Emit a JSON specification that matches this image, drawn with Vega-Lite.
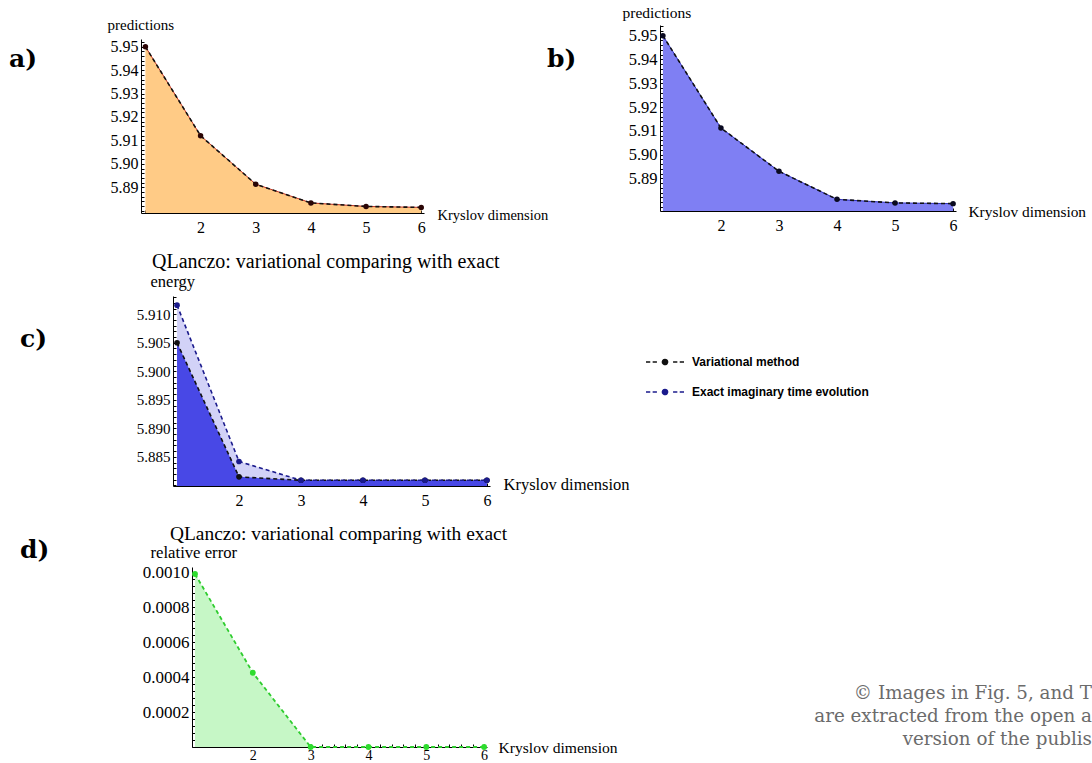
{
  "$schema": "https://vega.github.io/schema/vega-lite/v6.json",
  "background": "white",
  "padding": {"left": 9, "top": 5, "right": 0, "bottom": 0},
  "config": {
    "view": {"stroke": null},
    "font": "Liberation Serif",
    "axis": {"grid": false, "domainColor": "#000000", "domainWidth": 1, "tickColor": "#000000", "tickSize": -3, "tickWidth": 1, "labelColor": "#000000", "labelFont": "Liberation Serif", "titleFont": "Liberation Serif", "titleColor": "#000000", "titleFontWeight": "normal", "labelOverlap": false, "labelFlush": false, "labelBound": false},
    "axisX": {"labelPadding": 9},
    "axisY": {"labelPadding": 6},
    "title": {"font": "Liberation Serif", "color": "#000000"}
  },
  "datasets": {
    "predA": [{"k": 1, "v": 5.95}, {"k": 2, "v": 5.912}, {"k": 3, "v": 5.8913}, {"k": 4, "v": 5.8833}, {"k": 5, "v": 5.8818}, {"k": 6, "v": 5.8814}],
    "predB": [{"k": 1, "v": 5.95}, {"k": 2, "v": 5.9112}, {"k": 3, "v": 5.893}, {"k": 4, "v": 5.8812}, {"k": 5, "v": 5.8797}, {"k": 6, "v": 5.8794}],
    "energy": [
      {"k": 1, "v": 5.905, "method": "Variational method"},
      {"k": 2, "v": 5.8815, "method": "Variational method"},
      {"k": 3, "v": 5.8809, "method": "Variational method"},
      {"k": 4, "v": 5.8809, "method": "Variational method"},
      {"k": 5, "v": 5.8809, "method": "Variational method"},
      {"k": 6, "v": 5.8809, "method": "Variational method"},
      {"k": 1, "v": 5.9116, "method": "Exact imaginary time evolution"},
      {"k": 2, "v": 5.8842, "method": "Exact imaginary time evolution"},
      {"k": 3, "v": 5.8809, "method": "Exact imaginary time evolution"},
      {"k": 4, "v": 5.8809, "method": "Exact imaginary time evolution"},
      {"k": 5, "v": 5.8809, "method": "Exact imaginary time evolution"},
      {"k": 6, "v": 5.8809, "method": "Exact imaginary time evolution"}
    ],
    "err": [{"k": 1, "v": 0.00099}, {"k": 2, "v": 0.000425}, {"k": 3, "v": 0}, {"k": 4, "v": 0}, {"k": 5, "v": 0}, {"k": 6, "v": 0}]
  },
  "bounds": "flush",
  "spacing": 271,
  "vconcat": [
    {
      "bounds": "flush",
      "spacing": 519,
      "hconcat": [
        {
          "bounds": "flush",
          "spacing": 0,
          "vconcat": [
            {"width": 283, "height": 14, "data": {"values": []}, "mark": "point"},
            {
              "width": 283, "height": 174,
              "data": {"name": "predA"},
              "title": {"text": "a)", "orient": "top", "anchor": "start", "frame": "group", "align": "left", "baseline": "top", "offset": 0, "dx": -132, "dy": 55, "fontSize": 25, "fontWeight": "bold", "font": "DejaVu Serif", "color": "#000000"},
              "encoding": {
                "x": {"field": "k", "type": "quantitative", "scale": {"domain": [0.92, 6.05], "nice": false, "zero": false},
                  "axis": {"values": [1,1.2,1.4,1.6,1.8,2,2.2,2.4,2.6,2.8,3,3.2,3.4,3.6,3.8,4,4.2,4.4,4.6,4.8,5,5.2,5.4,5.6,5.8,6], "labelExpr": "datum.value > 1.5 && abs(datum.value - round(datum.value)) < 0.01 ? format(datum.value, 'd') : ''", "labelFontSize": 16, "title": "Kryslov dimension", "titleFontSize": 14.5, "titleAngle": 0, "titleAlign": "left", "titleBaseline": "middle", "titleX": 296, "titleY": 2}},
                "y": {"field": "v", "type": "quantitative", "scale": {"domain": [5.879, 5.9533], "nice": false, "zero": false},
                  "axis": {"values": [5.88,5.882,5.884,5.886,5.888,5.89,5.892,5.894,5.896,5.898,5.9,5.902,5.904,5.906,5.908,5.91,5.912,5.914,5.916,5.918,5.92,5.922,5.924,5.926,5.928,5.93,5.932,5.934,5.936,5.938,5.94,5.942,5.944,5.946,5.948,5.95,5.952], "labelExpr": "datum.value > 5.885 && abs(datum.value * 100 - round(datum.value * 100)) < 0.01 ? format(datum.value, '.2f') : ''", "labelFontSize": 16, "title": "predictions", "titleFontSize": 15, "titleAngle": 0, "titleAlign": "left", "titleBaseline": "middle", "titleX": -34, "titleY": -15}}
              },
              "layer": [
                {"mark": {"type": "area", "color": "#FFCB86", "opacity": 1, "clip": true}},
                {"mark": {"type": "line", "color": "#C03020", "strokeWidth": 1}},
                {"mark": {"type": "line", "color": "#111111", "strokeDash": [4, 3], "strokeWidth": 1.6}},
                {"mark": {"type": "point", "filled": true, "color": "#2a0505", "size": 30, "opacity": 1}}
              ]
            }
          ]
        },
        {
          "width": 296, "height": 186,
          "data": {"name": "predB"},
          "title": {"text": "b)", "orient": "top", "anchor": "start", "frame": "group", "align": "left", "baseline": "top", "offset": 0, "dx": -113, "dy": 67, "fontSize": 25, "fontWeight": "bold", "font": "DejaVu Serif", "color": "#000000"},
          "encoding": {
            "x": {"field": "k", "type": "quantitative", "scale": {"domain": [0.95, 6.05], "nice": false, "zero": false},
              "axis": {"values": [1,1.2,1.4,1.6,1.8,2,2.2,2.4,2.6,2.8,3,3.2,3.4,3.6,3.8,4,4.2,4.4,4.6,4.8,5,5.2,5.4,5.6,5.8,6], "labelExpr": "datum.value > 1.5 && abs(datum.value - round(datum.value)) < 0.01 ? format(datum.value, 'd') : ''", "labelFontSize": 16, "title": "Kryslov dimension", "titleFontSize": 15.4, "titleAngle": 0, "titleAlign": "left", "titleBaseline": "middle", "titleX": 308, "titleY": 0}},
            "y": {"field": "v", "type": "quantitative", "scale": {"domain": [5.8763, 5.9545], "nice": false, "zero": false},
              "axis": {"values": [5.878,5.88,5.882,5.884,5.886,5.888,5.89,5.892,5.894,5.896,5.898,5.9,5.902,5.904,5.906,5.908,5.91,5.912,5.914,5.916,5.918,5.92,5.922,5.924,5.926,5.928,5.93,5.932,5.934,5.936,5.938,5.94,5.942,5.944,5.946,5.948,5.95,5.952,5.954], "labelExpr": "datum.value > 5.885 && abs(datum.value * 100 - round(datum.value * 100)) < 0.01 ? format(datum.value, '.2f') : ''", "labelFontSize": 16.5, "title": "predictions", "titleFontSize": 15.5, "titleAngle": 0, "titleAlign": "left", "titleBaseline": "middle", "titleX": -38, "titleY": -13}}
          },
          "layer": [
            {"mark": {"type": "area", "color": "#7F7FF3", "opacity": 1, "clip": true}},
            {"mark": {"type": "line", "color": "#3030c0", "strokeWidth": 1}},
            {"mark": {"type": "line", "color": "#111111", "strokeDash": [4, 3], "strokeWidth": 1.6}},
            {"mark": {"type": "point", "filled": true, "color": "#0a0a20", "size": 30, "opacity": 1}}
          ]
        }
      ]
    },
    {
      "bounds": "flush",
      "spacing": 0,
      "hconcat": [
        {"width": 32, "height": 190, "data": {"values": []}, "mark": "point",
         "title": {"text": "c)", "orient": "top", "anchor": "start", "frame": "group", "align": "left", "baseline": "top", "offset": 0, "dx": -121, "dy": 56, "fontSize": 25, "fontWeight": "bold", "font": "DejaVu Serif", "color": "#000000"}},
        {
          "width": 317, "height": 190,
          "data": {"name": "energy"},
          "title": {"text": "QLanczo: variational comparing with exact", "orient": "top", "anchor": "start", "frame": "group", "align": "left", "baseline": "alphabetic", "offset": 0, "dx": -21, "dy": 15, "fontSize": 20, "fontWeight": "normal", "font": "Liberation Serif", "color": "#000000"},
          "encoding": {
            "x": {"field": "k", "type": "quantitative", "scale": {"domain": [0.935, 6.05], "nice": false, "zero": false},
              "axis": {"values": [1,1.2,1.4,1.6,1.8,2,2.2,2.4,2.6,2.8,3,3.2,3.4,3.6,3.8,4,4.2,4.4,4.6,4.8,5,5.2,5.4,5.6,5.8,6], "labelExpr": "datum.value > 1.5 && abs(datum.value - round(datum.value)) < 0.01 ? format(datum.value, 'd') : ''", "labelFontSize": 16, "title": "Kryslov dimension", "titleFontSize": 16.5, "titleAngle": 0, "titleAlign": "left", "titleBaseline": "middle", "titleX": 330, "titleY": -2}},
            "y": {"field": "v", "type": "quantitative", "scale": {"domain": [5.8799, 5.9132], "nice": false, "zero": false},
              "axis": {"values": [5.88,5.881,5.882,5.883,5.884,5.885,5.886,5.887,5.888,5.889,5.89,5.891,5.892,5.893,5.894,5.895,5.896,5.897,5.898,5.899,5.9,5.901,5.902,5.903,5.904,5.905,5.906,5.907,5.908,5.909,5.91,5.911,5.912,5.913], "labelExpr": "datum.value > 5.882 && abs(datum.value * 200 - round(datum.value * 200)) < 0.01 ? format(datum.value, '.3f') : ''", "labelFontSize": 15, "title": "energy", "titleFontSize": 16.5, "titleAngle": 0, "titleAlign": "left", "titleBaseline": "middle", "titleX": -23, "titleY": -15}}
          },
          "layer": [
            {"transform": [{"filter": "datum.method == 'Exact imaginary time evolution'"}], "mark": {"type": "area", "color": "#D2D2F7", "opacity": 1, "clip": true}},
            {"transform": [{"filter": "datum.method == 'Variational method'"}], "mark": {"type": "area", "color": "#4848E6", "opacity": 1, "clip": true}},
            {"mark": {"type": "line", "strokeDash": [4, 3], "strokeWidth": 1.6},
             "encoding": {"color": {"field": "method", "type": "nominal", "scale": {"domain": ["Variational method", "Exact imaginary time evolution"], "range": ["#111111", "#1a1a8c"]},
               "legend": {"orient": "none", "legendX": 513.5, "legendY": 326.5, "title": null, "padding": 0, "offset": 0, "labelFont": "Liberation Sans", "labelFontSize": 12, "labelFontWeight": "bold", "labelColor": "#000000", "labelLimit": 0, "labelOffset": 16.5, "rowPadding": 13, "symbolSize": 361, "symbolType": "M-2,0H-1.55M-1.3,0H-0.85M0.85,0H1.3M1.55,0H2M-0.28,0A0.28,0.28,0,1,1,0.28,0A0.28,0.28,0,1,1,-0.28,0Z", "symbolStrokeWidth": 1.3,
                 "encode": {"symbols": {"update": {"shape": {"value": "M-2,0H-1.55M-1.3,0H-0.85M0.85,0H1.3M1.55,0H2M-0.28,0A0.28,0.28,0,1,1,0.28,0A0.28,0.28,0,1,1,-0.28,0Z"}, "size": {"value": 361}, "strokeWidth": {"value": 1.3}, "strokeDash": {"value": [1, 0]}, "opacity": {"value": 1}, "fillOpacity": {"value": 1}, "strokeOpacity": {"value": 1}, "fill": {"signal": "datum.value === 'Variational method' ? '#111111' : '#1a1a8c'"}, "stroke": {"signal": "datum.value === 'Variational method' ? '#111111' : '#1a1a8c'"}}}}}}}},
            {"mark": {"type": "point", "filled": true, "size": 32, "opacity": 1},
             "encoding": {"color": {"field": "method", "type": "nominal", "scale": {"domain": ["Variational method", "Exact imaginary time evolution"], "range": ["#111111", "#1a1a8c"]}}}}
          ]
        }
      ]
    },
    {
      "bounds": "flush",
      "spacing": 0,
      "hconcat": [
        {"width": 51, "height": 180, "data": {"values": []}, "mark": "point",
         "title": {"text": "d)", "orient": "top", "anchor": "start", "frame": "group", "align": "left", "baseline": "top", "offset": 0, "dx": -121, "dy": -4, "fontSize": 25, "fontWeight": "bold", "font": "DejaVu Serif", "color": "#000000"}},
        {
          "width": 295, "height": 180,
          "data": {"name": "err"},
          "title": {"text": "QLanczo: variational comparing with exact", "orient": "top", "anchor": "start", "frame": "group", "align": "left", "baseline": "alphabetic", "offset": 0, "dx": -22, "dy": 15, "fontSize": 19.4, "fontWeight": "normal", "font": "Liberation Serif", "color": "#000000"},
          "encoding": {
            "x": {"field": "k", "type": "quantitative", "scale": {"domain": [0.948, 6.05], "nice": false, "zero": false},
              "axis": {"values": [1,1.2,1.4,1.6,1.8,2,2.2,2.4,2.6,2.8,3,3.2,3.4,3.6,3.8,4,4.2,4.4,4.6,4.8,5,5.2,5.4,5.6,5.8,6], "labelExpr": "datum.value > 1.5 && abs(datum.value - round(datum.value)) < 0.01 ? format(datum.value, 'd') : ''", "labelFontSize": 14, "labelPadding": 4, "title": "Kryslov dimension", "titleFontSize": 15.6, "titleAngle": 0, "titleAlign": "left", "titleBaseline": "middle", "titleX": 306, "titleY": 0}},
            "y": {"field": "v", "type": "quantitative", "scale": {"domain": [0, 0.00103], "nice": false, "zero": false},
              "axis": {"values": [0,0.00004,0.00008,0.00012,0.00016,0.0002,0.00024,0.00028,0.00032,0.00036,0.0004,0.00044,0.00048,0.00052,0.00056,0.0006,0.00064,0.00068,0.00072,0.00076,0.0008,0.00084,0.00088,0.00092,0.00096,0.001], "labelExpr": "datum.value > 0.0001 && abs(datum.value * 5000 - round(datum.value * 5000)) < 0.01 ? format(datum.value, '.4f') : ''", "labelFontSize": 17, "title": "relative error", "titleFontSize": 16.7, "titleAngle": 0, "titleAlign": "left", "titleBaseline": "middle", "titleX": -42, "titleY": -15}}
          },
          "layer": [
            {"mark": {"type": "area", "color": "#C6F7C6", "opacity": 1, "clip": true}},
            {"mark": {"type": "line", "color": "#2ECC2E", "strokeDash": [4, 3], "strokeWidth": 1.8}},
            {"mark": {"type": "point", "filled": true, "color": "#2EDD2E", "size": 34, "opacity": 1}}
          ]
        },
        {"width": 605, "height": 118, "data": {"values": []}, "mark": "point",
         "title": {"text": ["© Images in Fig. 5, and T", "are extracted from the open a", "version of the publis"], "orient": "bottom", "anchor": "end", "frame": "group", "align": "right", "baseline": "top", "offset": 0, "lineHeight": 23, "fontSize": 18.3, "font": "DejaVu Serif", "fontWeight": "normal", "color": "#6b6b6b"}}
      ]
    }
  ]
}
